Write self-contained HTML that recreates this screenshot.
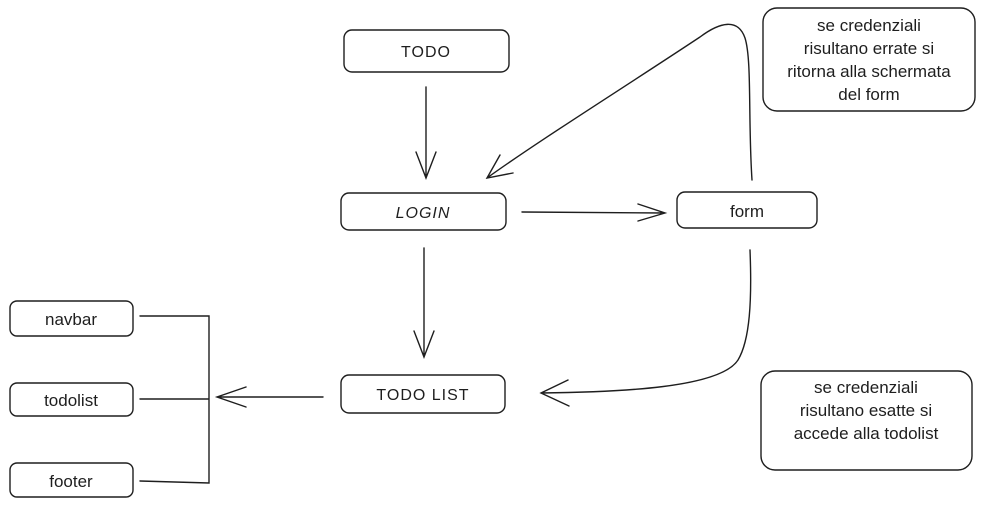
<!DOCTYPE html>
<html><head><style>
body{margin:0;width:984px;height:507px;background:#fff;overflow:hidden}
svg{display:block}
.h{font-family:"Comic Sans MS","Liberation Sans",sans-serif;font-size:16px;letter-spacing:1px}
.n{font-family:"Liberation Sans",sans-serif;font-size:17px}
</style></head><body>
<svg width="984" height="507" viewBox="0 0 984 507" fill="none" stroke="#1e1e1e" stroke-width="1.4" stroke-linecap="round">
<rect x="344" y="30" width="165" height="42" rx="8"/>
<rect x="341" y="193" width="165" height="37" rx="8"/>
<rect x="341" y="375" width="164" height="38" rx="8"/>
<rect x="677" y="192" width="140" height="36" rx="8"/>
<rect x="763" y="8" width="212" height="103" rx="14"/>
<rect x="761" y="371" width="211" height="99" rx="14"/>
<rect x="10" y="301" width="123" height="35" rx="7"/>
<rect x="10" y="383" width="123" height="33" rx="7"/>
<rect x="10" y="463" width="123" height="34" rx="7"/>
<path d="M426 87 L426 178 M416 152 L426 178 L436 152"/>
<path d="M424 248 L424 357 M414 331 L424 357 L434 331"/>
<path d="M522 212 L665 213 M638 204 L665 213 L638 221"/>
<path d="M752 180 C748 120 752 60 745 38 C738 18 720 22 700 37 C620 90 540 140 487 178 M500 155 L487 178 L513 173"/>
<path d="M750 250 C752 300 750 340 738 360 C720 388 620 392 541 393 M568 380 L541 393 L569 406"/>
<path d="M323 397 L217 397 M246 387 L217 397 L246 407"/>
<path d="M140 316 L209 316 L209 483 L140 481 M140 399 L209 399"/>
<g stroke="none" fill="#1e1e1e">
<text class="h" x="426" y="57" text-anchor="middle">TODO</text>
<text class="h" x="423" y="218" text-anchor="middle" font-style="italic">LOGIN</text>
<text class="h" x="423" y="400" text-anchor="middle">TODO LIST</text>
<text class="n" x="747" y="217" text-anchor="middle">form</text>
<text class="n" x="71" y="325" text-anchor="middle">navbar</text>
<text class="n" x="71" y="406" text-anchor="middle">todolist</text>
<text class="n" x="71" y="487" text-anchor="middle">footer</text>
<text class="n" text-anchor="middle"><tspan x="869" y="31">se credenziali</tspan><tspan x="869" y="54">risultano errate si</tspan><tspan x="869" y="77">ritorna alla schermata</tspan><tspan x="869" y="100">del form</tspan></text>
<text class="n" text-anchor="middle"><tspan x="866" y="393">se credenziali</tspan><tspan x="866" y="416">risultano esatte si</tspan><tspan x="866" y="439">accede alla todolist</tspan></text>
</g>
</svg>
</body></html>
